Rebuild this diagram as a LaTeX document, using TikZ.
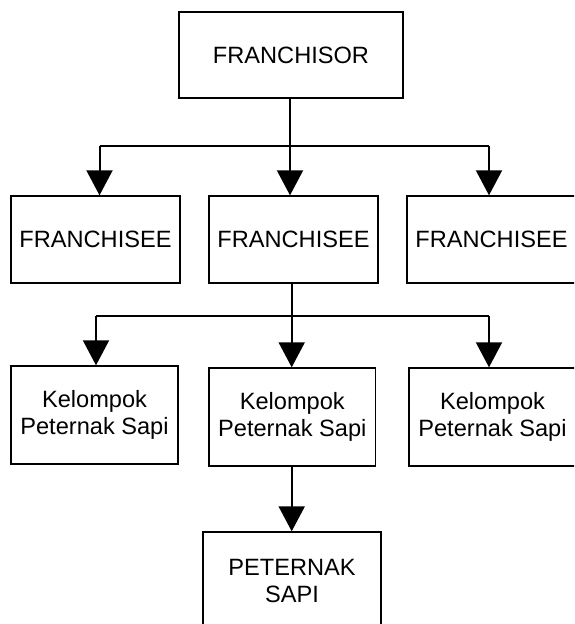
\documentclass[tikz,border=0pt]{standalone}
\usepackage{fontspec}
\setmainfont{Liberation Sans}
\usetikzlibrary{arrows.meta}
\begin{document}
\begin{tikzpicture}[x=1pt,y=-1pt,
  box/.style={draw, line width=1.4pt, inner sep=0pt, align=center,
    font=\fontsize{23.6}{27}\selectfont},
  conn/.style={line width=2pt},
  arr/.style={line width=2pt, -{Triangle[width=26pt,length=25pt]}}]
\useasboundingbox (0,0) rectangle (574,624);
\clip (0,0) rectangle (574,624);
% nodes
\node[box, minimum width=224pt, minimum height=86pt] (fr) at (291,55) {FRANCHISOR};
\node[box, minimum width=169pt, minimum height=87pt] (fe1) at (95.5,239.5) {FRANCHISEE};
\node[box, minimum width=169pt, minimum height=87pt] (fe2) at (293.5,239.5) {FRANCHISEE};
\node[box, minimum width=169pt, minimum height=87pt] (fe3) at (491.5,239.5) {FRANCHISEE};
\node[box, minimum width=167pt, minimum height=98pt] (kp1) at (94.5,415) {Kelompok\\Peternak Sapi};
\node[box, minimum width=166.5pt, minimum height=98pt] (kp2) at (292.3,417) {Kelompok\\Peternak Sapi};
\node[box, minimum width=167pt, minimum height=98pt] (kp3) at (492.5,417) {Kelompok\\Peternak Sapi};
\node[box, minimum width=178pt, minimum height=98pt] (ps) at (292,581) {PETERNAK\\SAPI};
% junctions
\coordinate (j1) at (290,146);
\coordinate (j1l) at (99.5,146);
\coordinate (j1r) at (489,146);
\coordinate (j2) at (291.7,316);
\coordinate (j2l) at (96,316);
\coordinate (j2r) at (489,316);
% connectors level 1
\draw[conn] (fr.south -| j1) -- (j1);
\draw[conn] (j1l) -- (j1r);
\draw[arr] (j1l) -- (j1l |- fe1.north);
\draw[arr] (j1) -- (j1 |- fe2.north);
\draw[arr] (j1r) -- (j1r |- fe3.north);
% connectors level 2
\draw[conn] (fe2.south -| j2) -- (j2);
\draw[conn] (j2l) -- (j2r);
\draw[arr] (j2l) -- (j2l |- kp1.north);
\draw[arr] (j2) -- (j2 |- kp2.north);
\draw[arr] (j2r) -- (j2r |- kp3.north);
% connector level 3
\draw[arr] (kp2.south -| j2) -- (j2 |- ps.north);
\end{tikzpicture}
\end{document}
